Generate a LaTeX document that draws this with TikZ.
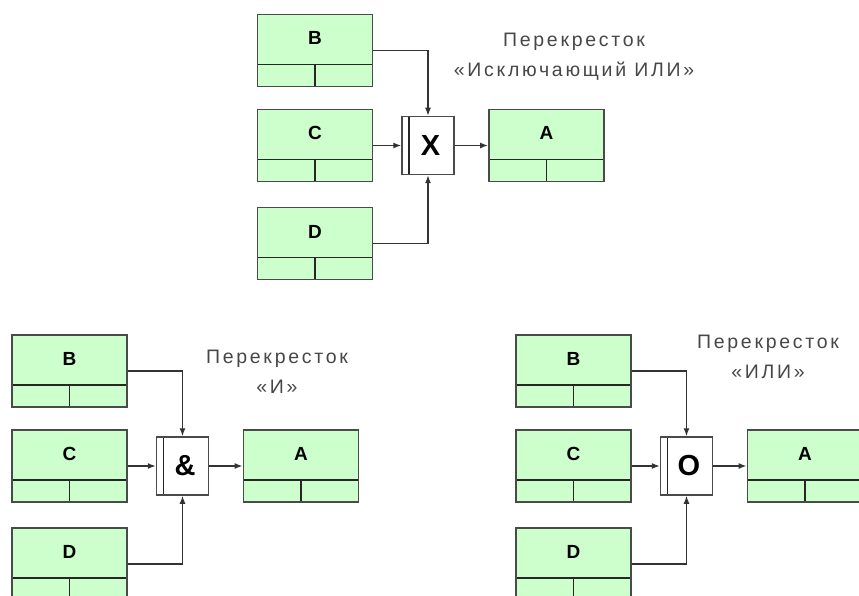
\documentclass[tikz,border=0pt]{standalone}
\usepackage{fontspec}
\setmainfont{Liberation Sans}
\newfontfamily\notefont[LetterSpace=14]{Liberation Sans}
\usetikzlibrary{arrows.meta}
\definecolor{UowGreen}{HTML}{CCFFCC}
\definecolor{EdgeGray}{HTML}{4A4A4A}
\definecolor{NoteGray}{HTML}{474747}
\tikzset{
    uow/.style = {draw=EdgeGray, fill=UowGreen, rectangle, line width=1.8pt,
        minimum width=115pt, minimum height=72pt, inner sep=0pt,
        text height=14pt, text depth=25pt,
        font=\fontsize{19}{19}\selectfont\bfseries,
        path picture={
            \draw[line width=1.5pt, black!85] ([yshift=22pt]path picture bounding box.south west) -- ([yshift=22pt]path picture bounding box.south east);
            \draw[line width=1.5pt, black!85] (path picture bounding box.south) -- ([yshift=22pt]path picture bounding box.south);}},
    junction/.style = {draw=EdgeGray, fill=white, rectangle, line width=1.5pt,
        minimum width=52pt, minimum height=58pt, inner sep=0pt,
        font=\fontsize{29}{29}\selectfont\bfseries,
        path picture={
            \draw[line width=1.5pt, black!85] ([xshift=7pt]path picture bounding box.south west) -- ([xshift=7pt]path picture bounding box.north west);}},
    flow/.style = {draw=black!80, line width=1.3pt, -{Latex[length=8pt,width=6pt]}},
    note/.style = {align=center, text=NoteGray, font=\notefont\fontsize{19.5}{30}\selectfont}
}

\begin{document}
\begin{tikzpicture}[x=1pt,y=-1pt]
    \useasboundingbox (0,0) rectangle (859,596);
    \clip (0,0) rectangle (859,596);
    \fill[white] (0,0) rectangle (859,596);
    % three crossroads: top (xor), left (and), right (or)
    \foreach \g/\ox/\oy/\sym in {t/245.5/-320.5/X, l/0/0/\&, r/504/0/O} {
        \node[uow] (B\g) at (69.5+\ox,371+\oy) {B};
        \node[uow] (C\g) at (69.5+\ox,466+\oy) {C};
        \node[uow] (D\g) at (69.5+\ox,564+\oy) {D};
        \node[junction] (J\g) at (182.5+\ox,466+\oy) {\hspace*{5pt}\sym};
        \node[uow] (A\g) at (301+\ox,466+\oy) {A};
        \draw[flow] (B\g.east) -| (J\g.north);
        \draw[flow] (C\g) -- (J\g);
        \draw[flow] (D\g.east) -| (J\g.south);
        \draw[flow] (J\g) -- (A\g);
    }
    \node[note] (Nt) at (574,57) {Перекресток\\«Исключающий ИЛИ»};
    \node[note] (Nl) at (277,372) {Перекресток\\«И»};
    \node[note] (Nr) at (768,357) {Перекресток\\«ИЛИ»};
\end{tikzpicture}
\end{document}
